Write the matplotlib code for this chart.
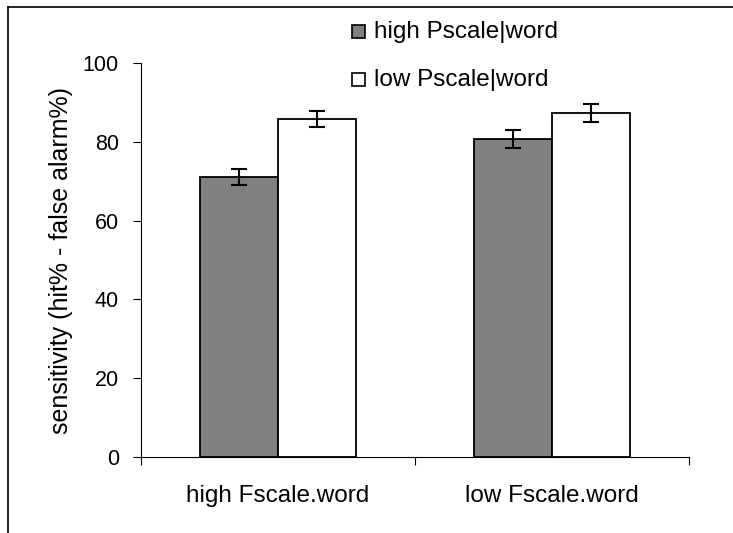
import numpy as np
import matplotlib.pyplot as plt
from matplotlib.lines import Line2D
from matplotlib.patches import Rectangle

categories = ['high Fscale.word', 'low Fscale.word']
series = ['high Pscale|word', 'low Pscale|word']
high_p = [71.0, 80.7]
low_p = [85.7, 87.2]
high_p_err = [2.0, 2.2]
low_p_err = [2.0, 2.3]

plt.rcParams['font.family'] = ['Liberation Sans', 'DejaVu Sans']

fig = plt.figure(figsize=(7.33, 5.33), dpi=100)
W, H = 733, 533
ax = fig.add_axes([141 / W, 1 - 457 / H, (689 - 141) / W, (457 - 63) / H])

x = np.arange(len(categories))
w = 0.285
ax.bar(x - w / 2, high_p, w, color='#808080', edgecolor='black', linewidth=1.3,
       yerr=high_p_err, capsize=6, error_kw={'elinewidth': 1.5, 'capthick': 1.5})
ax.bar(x + w / 2, low_p, w, color='white', edgecolor='black', linewidth=1.3,
       yerr=low_p_err, capsize=6, error_kw={'elinewidth': 1.5, 'capthick': 1.5})

ax.set_xlim(-0.5, len(categories) - 0.5)
ax.set_ylim(0, 100)
ax.set_yticks([0, 20, 40, 60, 80, 100])
ax.set_xticks(np.arange(len(categories) + 1) - 0.5)
ax.set_xticklabels([])
ax.set_xticks(x, minor=True)
ax.set_xticklabels(categories, minor=True, fontsize=17.5)
ax.tick_params(axis='x', which='minor', length=0, pad=20)
ax.tick_params(axis='x', which='major', direction='out', length=6, width=0.8)
ax.tick_params(axis='y', direction='out', length=6, width=0.8, labelsize=15.5, pad=10)
for s in ['top', 'right']:
    ax.spines[s].set_visible(False)
ax.spines['left'].set_linewidth(0.8)
ax.spines['bottom'].set_linewidth(0.8)
ax.set_ylabel('sensitivity (hit% - false alarm%)', fontsize=18, labelpad=7)

# legend drawn by hand in figure pixels
leg = [(series[0], '#808080', 32), (series[1], 'white', 80)]
for label, col, yp in leg:
    fig.patches.append(Rectangle((352 / W, 1 - (yp + 6) / H), 13 / W, 13 / H,
                                 transform=fig.transFigure, facecolor=col,
                                 edgecolor='black', linewidth=1.2))
    fig.text(374 / W, 1 - yp / H, label, fontsize=17.5, va='center', ha='left')

# outer frame (left and top edges)
fig.add_artist(Line2D([8 / W, 8 / W], [0, 1 - 7 / H], transform=fig.transFigure,
                      color='black', linewidth=1.2))
fig.add_artist(Line2D([8 / W, 1], [1 - 7 / H, 1 - 7 / H], transform=fig.transFigure,
                      color='black', linewidth=1.2))

fig.savefig('out.png', dpi=100)
